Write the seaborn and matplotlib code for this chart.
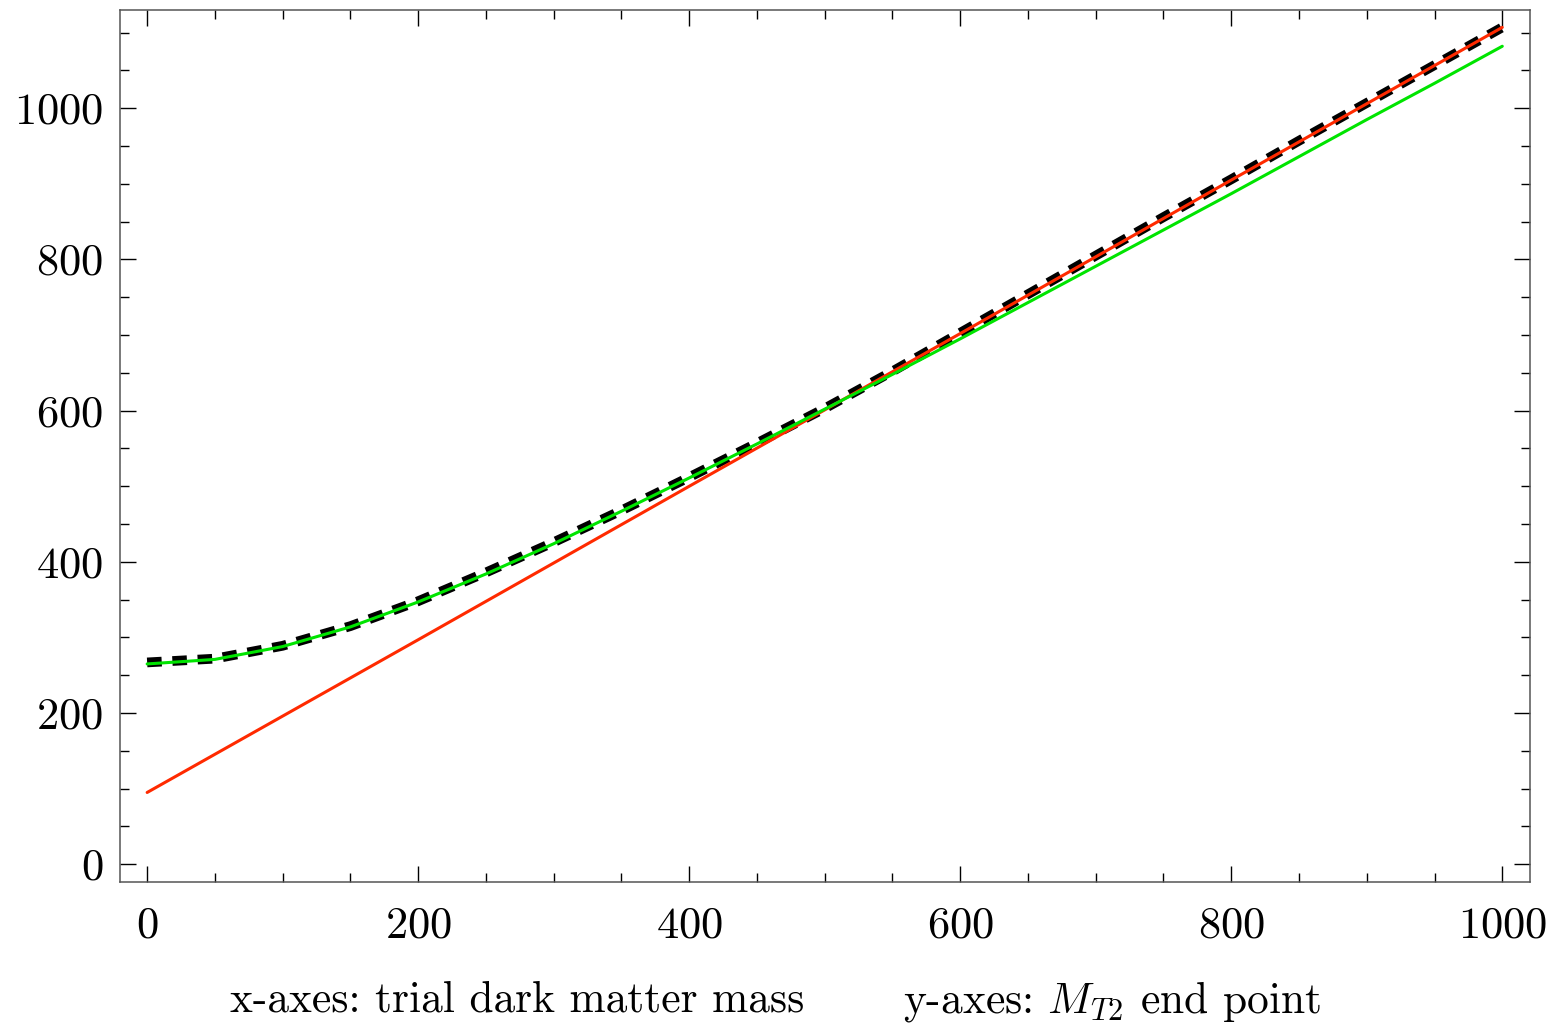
import matplotlib
matplotlib.use("Agg")
import matplotlib.pyplot as plt
import seaborn as sns
import pandas as pd
from matplotlib.ticker import MultipleLocator

# ---- data ----
trial_mass = [0, 50, 100, 150, 200, 250, 300, 350, 400, 450, 500,
              550, 600, 650, 700, 750, 800, 850, 900, 950, 1000]
mt2_endpoint = [267, 272, 289, 315, 348, 386, 426, 468, 512, 557, 603,
                652, 703, 754, 805, 856, 906, 957, 1007, 1057, 1107]
green_branch = [265, 271, 288, 314, 347, 384, 424, 467, 511, 556, 602,
                648, 695, 743, 791, 839, 887, 936, 985, 1033, 1082]
red_mass = [0, 200, 400, 600, 800, 1000]
red_branch = [95, 297, 500, 702, 905, 1107]

x_label_text = "x-axes: trial dark matter mass"
y_label_text = r"y-axes: $M_{T2}$ end point"

sns.set_style("white")
plt.rcParams["font.family"] = ["cmr10", "DejaVu Serif"]
plt.rcParams["mathtext.fontset"] = "cm"
plt.rcParams["axes.formatter.use_mathtext"] = True
plt.rcParams["text.color"] = "black"

fig = plt.figure(figsize=(15.57, 10.27), dpi=100)
ax = fig.add_axes([0.0771, 0.1415, 0.9056, 0.8488])

df_data = pd.DataFrame({"m": trial_mass, "mt2": mt2_endpoint})
df_green = pd.DataFrame({"m": trial_mass, "mt2": green_branch})
df_red = pd.DataFrame({"m": red_mass, "mt2": red_branch})

sns.lineplot(data=df_data, x="m", y="mt2", ax=ax, color="black", lw=7.0)
ax.get_lines()[-1].set_dashes((1.5, 1.1))
ax.get_lines()[-1].set_dash_capstyle("butt")
sns.lineplot(data=df_red, x="m", y="mt2", ax=ax, color="#ff2a00", lw=2.2)
sns.lineplot(data=df_green, x="m", y="mt2", ax=ax, color="#00e400", lw=2.2)

ax.set_xlim(-20, 1020.5)
ax.set_ylim(-23, 1130)
ax.xaxis.set_major_locator(MultipleLocator(200))
ax.xaxis.set_minor_locator(MultipleLocator(50))
ax.yaxis.set_major_locator(MultipleLocator(200))
ax.yaxis.set_minor_locator(MultipleLocator(50))
ax.set_xlabel("")
ax.set_ylabel("")

for s in ax.spines.values():
    s.set_color("#555555")
    s.set_linewidth(1.1)

ax.tick_params(which="both", direction="in", top=True, right=True,
               bottom=True, left=True,
               color="black", width=1.0, labelsize=32, labelcolor="black")
ax.tick_params(which="major", length=11.5)
ax.tick_params(which="minor", length=6.5)
ax.tick_params(axis="x", which="major", pad=18)
ax.tick_params(axis="y", which="major", pad=12)

fig.text(230 / 1557, 1 - 1012 / 1027, x_label_text, fontsize=31.3,
         ha="left", va="baseline", color="black")
fig.text(903 / 1557, 1 - 1012 / 1027, y_label_text, fontsize=31.3,
         ha="left", va="baseline", color="black")

fig.savefig("out.png", dpi=100)
